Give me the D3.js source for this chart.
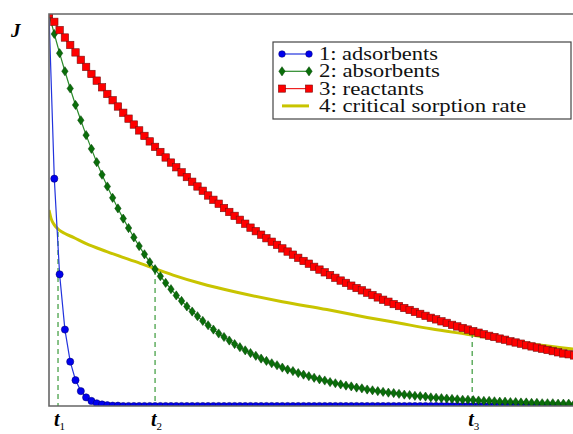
<!DOCTYPE html>
<html>
<head>
<meta charset="utf-8">
<script src="https://cdn.jsdelivr.net/npm/d3@7"></script>
<style>
  body { margin: 0; background: #fff; }
</style>
</head>
<body>
<div id="chart"></div>
<script>
const WIDTH = 573;
const HEIGHT = 434;
const MARGIN = { TOP: 14, BOTTOM: 28, LEFT: 49, RIGHT: -1 };
const SERIF = '"Liberation Serif", "Times New Roman", "DejaVu Serif", serif';

// one value per marker (normalised flux J)
const adsorbents = [
  1.000, 0.580, 0.336, 0.195, 0.113, 0.066, 0.038, 0.022, 0.013, 0.007,
  0.004, 0.002, 0.001, 0.001, 0, 0, 0, 0, 0, 0,
  0, 0, 0, 0, 0, 0, 0, 0, 0, 0,
  0, 0, 0, 0, 0, 0, 0, 0, 0, 0,
  0, 0, 0, 0, 0, 0, 0, 0, 0, 0,
  0, 0, 0, 0, 0, 0, 0, 0, 0, 0,
  0, 0, 0, 0, 0, 0, 0, 0, 0, 0,
  0, 0, 0, 0, 0, 0, 0, 0, 0, 0,
  0, 0, 0, 0, 0, 0, 0, 0, 0, 0,
  0, 0, 0, 0, 0, 0, 0, 0, 0, 0
];
const absorbents = [
  1.000, 0.949, 0.900, 0.854, 0.810, 0.768, 0.729, 0.691, 0.656, 0.622,
  0.590, 0.560, 0.531, 0.504, 0.478, 0.454, 0.430, 0.408, 0.387, 0.367,
  0.349, 0.331, 0.314, 0.298, 0.282, 0.268, 0.254, 0.241, 0.229, 0.217,
  0.206, 0.195, 0.185, 0.176, 0.167, 0.158, 0.150, 0.142, 0.135, 0.128,
  0.121, 0.115, 0.109, 0.104, 0.098, 0.093, 0.089, 0.084, 0.080, 0.076,
  0.072, 0.068, 0.065, 0.061, 0.058, 0.055, 0.052, 0.050, 0.047, 0.045,
  0.042, 0.040, 0.038, 0.036, 0.034, 0.033, 0.031, 0.029, 0.028, 0.026,
  0.025, 0.024, 0.022, 0.021, 0.020, 0.019, 0.018, 0.017, 0.016, 0.016,
  0.015, 0.014, 0.013, 0.013, 0.012, 0.011, 0.011, 0.010, 0.010, 0.009,
  0.009, 0.008, 0.008, 0.007, 0.007, 0.007, 0.006, 0.006, 0.006, 0.005
];
const reactants = [
  1.000, 0.980, 0.959, 0.940, 0.921, 0.902, 0.883, 0.865, 0.847, 0.830,
  0.813, 0.796, 0.780, 0.764, 0.748, 0.733, 0.718, 0.703, 0.689, 0.675,
  0.661, 0.648, 0.634, 0.621, 0.609, 0.596, 0.584, 0.572, 0.560, 0.549,
  0.537, 0.526, 0.516, 0.505, 0.495, 0.485, 0.475, 0.465, 0.455, 0.446,
  0.437, 0.428, 0.419, 0.411, 0.402, 0.394, 0.386, 0.378, 0.370, 0.363,
  0.355, 0.348, 0.341, 0.334, 0.327, 0.320, 0.314, 0.307, 0.301, 0.295,
  0.289, 0.283, 0.277, 0.271, 0.266, 0.260, 0.255, 0.250, 0.245, 0.240,
  0.235, 0.230, 0.225, 0.221, 0.216, 0.212, 0.207, 0.203, 0.199, 0.195,
  0.191, 0.187, 0.183, 0.179, 0.176, 0.172, 0.169, 0.165, 0.162, 0.159,
  0.155, 0.152, 0.149, 0.146, 0.143, 0.140, 0.137, 0.134, 0.132, 0.129
];
// critical sorption rate: smooth line, no markers
const criticalT = [0, 0.4, 1, 2, 3, 4.6, 7, 10.9, 17.2, 23.4, 28.5, 35.4, 44, 52.4, 60, 66.2, 72, 78.8, 86, 92, 99];
const criticalJ = [0.500, 0.478, 0.462, 0.448, 0.440, 0.430, 0.414, 0.394, 0.364, 0.334, 0.313, 0.290, 0.266, 0.246, 0.226, 0.211, 0.197, 0.183, 0.168, 0.156, 0.145];

// crossing times t1, t2, t3 and the J level where each dashed line starts
const crossT = [1.7, 20, 79.8];
const crossJ = [0.444, 0.347, 0.186];
const crossLabels = ['1', '2', '3'];

const legendLabels = ['1: adsorbents', '2: absorbents', '3: reactants', '4: critical sorption rate'];
const legendTextWidths = [119, 121, 105, 207];

const width = WIDTH - MARGIN.LEFT - MARGIN.RIGHT;
const height = HEIGHT - MARGIN.TOP - MARGIN.BOTTOM;

const svg = d3.select('#chart')
  .append('svg')
    .attr('width', WIDTH)
    .attr('height', HEIGHT)
    .style('font-family', SERIF);

const x = d3.scaleLinear().domain([0, 99]).range([MARGIN.LEFT, MARGIN.LEFT + 525]);
const y = d3.scaleLinear().domain([0, 1]).range([HEIGHT - MARGIN.BOTTOM, MARGIN.TOP]);

svg.append('clipPath')
    .attr('id', 'plotclip')
  .append('rect')
    .attr('x', MARGIN.LEFT)
    .attr('y', MARGIN.TOP)
    .attr('width', width + 40)
    .attr('height', height);

const plot = svg.append('g').attr('clip-path', 'url(#plotclip)');

const line = d3.line()
  .x((d, i) => x(i))
  .y(d => y(d));

// critical rate curve
const critPts = criticalT.map((t, i) => [t, criticalJ[i]]);
plot.append('path')
    .datum(critPts)
    .attr('d', d3.line().x(d => x(d[0])).y(d => y(d[1])).curve(d3.curveMonotoneX))
    .attr('fill', 'none')
    .attr('stroke', '#c8c400')
    .attr('stroke-width', 3);

// dashed markers for t1, t2, t3
plot.selectAll('line.cross')
  .data(crossT)
  .enter().append('line')
    .attr('class', 'cross')
    .attr('x1', d => x(d))
    .attr('x2', d => x(d))
    .attr('y1', (d, i) => y(crossJ[i]))
    .attr('y2', y(0))
    .attr('stroke', '#3a9a3a')
    .attr('stroke-width', 1.2)
    .attr('stroke-dasharray', '5,4');

//series 1: adsorbents (blue circles)
plot.append('path')
    .datum(adsorbents)
    .attr('d', line)
    .attr('fill', 'none')
    .attr('stroke', '#2233dd')
    .attr('stroke-width', 1.2);
plot.append('g')
  .selectAll('circle')
  .data(adsorbents)
  .enter().append('circle')
    .attr('cx', (d, i) => x(i))
    .attr('cy', d => y(d))
    .attr('r', 3.6)
    .attr('fill', '#0000ee')
    .attr('stroke', '#000066')
    .attr('stroke-width', 0.5);

//series 2: absorbents (green diamonds)
plot.append('path')
    .datum(absorbents)
    .attr('d', line)
    .attr('fill', 'none')
    .attr('stroke', '#2a8a2a')
    .attr('stroke-width', 1.2);
plot.append('g')
  .selectAll('path')
  .data(absorbents)
  .enter().append('path')
    .attr('transform', (d, i) => `translate(${x(i)},${y(d)})`)
    .attr('d', 'M0,-4.6L3.2,0L0,4.6L-3.2,0Z')
    .attr('fill', '#0a6e0a')
    .attr('stroke', '#034003')
    .attr('stroke-width', 0.5);

//series 3: reactants (red squares)
plot.append('path')
    .datum(reactants)
    .attr('d', line)
    .attr('fill', 'none')
    .attr('stroke', '#ee2222')
    .attr('stroke-width', 1);
plot.append('g')
  .selectAll('rect')
  .data(reactants)
  .enter().append('rect')
    .attr('x', (d, i) => x(i) - 3.7)
    .attr('y', d => y(d) - 3.7)
    .attr('width', 7.4)
    .attr('height', 7.4)
    .attr('fill', '#ff0000')
    .attr('stroke', '#7a1010')
    .attr('stroke-width', 0.6);

// spines
const spine = svg.append('g')
    .attr('stroke', '#666')
    .attr('stroke-width', 1.6)
    .attr('fill', 'none');
spine.append('path')
    .attr('d', `M${WIDTH + 5},${y(1)}H${x(0)}V${y(0)}H${WIDTH + 5}`);

// y label
svg.append('text')
    .attr('x', 11)
    .attr('y', 37)
    .attr('font-family', SERIF)
    .attr('font-size', 19)
    .attr('font-style', 'italic')
    .attr('font-weight', 'bold')
    .text('J');

// t labels under the axis
const tl = svg.selectAll('text.tlab')
  .data(crossT)
  .enter().append('text')
    .attr('class', 'tlab')
    .attr('x', d => x(d) - 4)
    .attr('y', 426)
    .attr('font-family', SERIF)
    .attr('font-size', 20)
    .attr('font-style', 'italic')
    .attr('font-weight', 'bold');
tl.append('tspan').text('t');
tl.append('tspan')
    .attr('font-size', 11)
    .attr('font-style', 'normal')
    .attr('font-weight', 'normal')
    .attr('dy', 4)
    .text((d, i) => crossLabels[i]);

// legend
const legend = svg.append('g').attr('transform', 'translate(273,42)');
legend.append('rect')
    .attr('width', 298)
    .attr('height', 77)
    .attr('fill', '#fff')
    .attr('stroke', '#444')
    .attr('stroke-width', 1.2);

const rowY = i => 12 + i * 17.3;
const legendColors = ['#2233dd', '#2a8a2a', '#ee2222', '#c8c400'];

legend.selectAll('line.key')
  .data(legendLabels)
  .enter().append('line')
    .attr('class', 'key')
    .attr('x1', 9)
    .attr('x2', 36)
    .attr('y1', (d, i) => rowY(i))
    .attr('y2', (d, i) => rowY(i))
    .attr('stroke', (d, i) => legendColors[i])
    .attr('stroke-width', (d, i) => i === 3 ? 3 : 1.2);

[9, 36].forEach(px => {
  legend.append('circle').attr('cx', px).attr('cy', rowY(0)).attr('r', 3.3)
      .attr('fill', '#0000ee').attr('stroke', '#000066').attr('stroke-width', 0.5);
  legend.append('path').attr('transform', `translate(${px},${rowY(1)})`)
      .attr('d', 'M0,-4.6L3.2,0L0,4.6L-3.2,0Z')
      .attr('fill', '#0a6e0a').attr('stroke', '#034003').attr('stroke-width', 0.5);
  legend.append('rect').attr('x', px - 3.6).attr('y', rowY(2) - 3.6)
      .attr('width', 7.2).attr('height', 7.2)
      .attr('fill', '#ff0000').attr('stroke', '#7a1010').attr('stroke-width', 0.6);
});

legend.selectAll('text')
  .data(legendLabels)
  .enter().append('text')
    .attr('x', 46)
    .attr('y', (d, i) => rowY(i) + 6)
    .attr('font-family', SERIF)
    .attr('font-size', 19.5)
    .attr('textLength', (d, i) => legendTextWidths[i])
    .attr('lengthAdjust', 'spacingAndGlyphs')
    .attr('fill', '#111')
    .text(d => d);
</script>
</body>
</html>
